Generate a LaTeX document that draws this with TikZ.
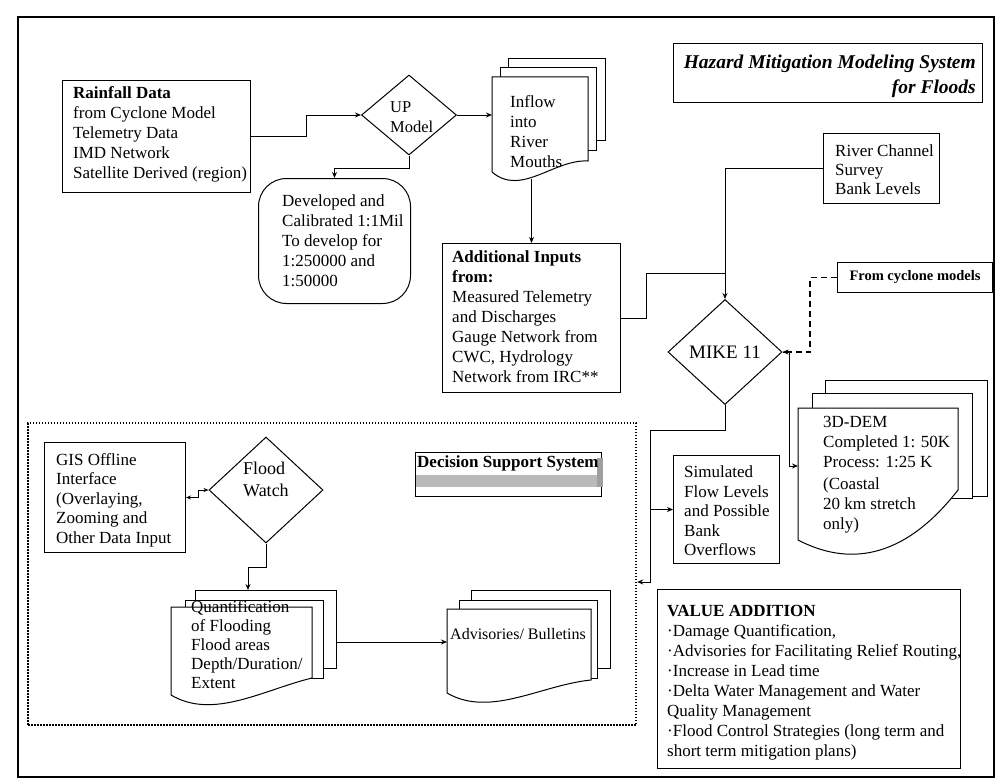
\documentclass[tikz,border=0pt]{standalone}
\usepackage{fontspec}
\setmainfont{Liberation Serif}
\usetikzlibrary{shapes.geometric,arrows.meta,calc}
\newcommand{\txt}{\fontsize{17}{20}\selectfont}
\begin{document}
\begin{tikzpicture}[x=1pt,y=-1pt,
  box/.style={draw, line width=1pt, anchor=north west, inner sep=0pt, fill=white},
  pg/.style={draw, line width=1pt, anchor=north west, inner sep=0pt, fill=white},
  anch/.style={draw=none, anchor=north west, inner sep=0pt},
  tx/.style={anchor=north west, inner sep=0pt, align=left, font=\txt},
  dia/.style={draw, diamond, inner sep=0pt, line width=1pt, fill=white},
  arr/.style={-{Stealth[length=6pt,width=5pt]}, line width=1pt},
  conn/.style={line width=1pt}]
\useasboundingbox (0,0) rectangle (1002,784);
\fill[white] (0,0) rectangle (1002,784);
% frame
\node[draw, line width=2pt, anchor=north west, inner sep=0pt, minimum width=976pt, minimum height=760pt] (frame) at (17,16) {};
% decision support dotted region
\node[draw, line width=2.2pt, dash pattern=on 1.6pt off 1.4pt, anchor=north west, inner sep=0pt, minimum width=608pt, minimum height=302pt] (dss) at (27,422) {};

% boxes
\node[box, minimum width=188pt, minimum height=112pt] (rain) at (62,80) {};
\node[dia, minimum width=95pt, minimum height=80pt] (up) at (409,115) {};
\node[box, rounded corners=28pt, minimum width=152pt, minimum height=125pt] (dev) at (258,178) {};
\node[box, minimum width=178pt, minimum height=149pt] (add) at (442,243) {};
\node[box, minimum width=309pt, minimum height=59pt] (title) at (673,43) {};
\node[box, minimum width=116pt, minimum height=70pt] (river) at (823,133) {};
\node[box, minimum width=155pt, minimum height=30pt, font=\fontsize{14.5}{16}\selectfont\bfseries] (cyc) at (837,262) {From cyclone models};
\node[dia, minimum width=114pt, minimum height=105pt, font=\fontsize{19}{22}\selectfont] (mike) at (725,352) {MIKE 11};
\node[box, minimum width=106pt, minimum height=108pt] (sim) at (673,455) {};
\node[box, minimum width=141pt, minimum height=110pt] (gis) at (44,442) {};
\node[dia, minimum width=114pt, minimum height=106pt] (flood) at (266,490) {};
\node[box, minimum width=186pt, minimum height=44pt] (dssbox) at (415,452) {};
\fill[gray!55] (416,475) rectangle (603,487);
\fill[gray!75] (597,458) rectangle (603,487);
\node[box, minimum width=303pt, minimum height=179pt] (val) at (657,589) {};

% inflow document stack
\node[pg, minimum width=97pt, minimum height=82pt] (inflowC) at (508,58) {};
\node[pg, minimum width=96pt, minimum height=83pt] (inflowB) at (500,67) {};
\filldraw[fill=white, line width=1pt] (492,77) -- (588,77) -- (588,161) .. controls (554,159) and (521,197) .. (492,172) -- cycle;
\node[anch, minimum width=96pt, minimum height=95pt] (inflow) at (492,77) {};

% 3D-DEM document stack
\node[pg, minimum width=162pt, minimum height=116pt] (demC) at (825,380) {};
\node[pg, minimum width=160pt, minimum height=105pt] (demB) at (812,393) {};
\filldraw[fill=white, line width=1pt] (798,408) -- (958,408) -- (958,490) .. controls (902,562) and (846,565) .. (798,540) -- cycle;
\node[anch, minimum width=160pt, minimum height=132pt] (dem) at (798,408) {};

% quantification stack
\node[pg, minimum width=141pt, minimum height=78pt] (quantB) at (195,590) {};
\node[pg, minimum width=138pt, minimum height=78pt] (quantM) at (185,600) {};
\filldraw[fill=white, line width=1pt] (171,607) -- (312,607) -- (312,678) .. controls (263,690) and (213,720) .. (171,695) -- cycle;
\node[anch, minimum width=141pt, minimum height=88pt] (quant) at (171,607) {};

% advisories stack
\node[pg, minimum width=139pt, minimum height=78pt] (advB) at (471,590) {};
\node[pg, minimum width=138pt, minimum height=78pt] (advM) at (459,600) {};
\filldraw[fill=white, line width=1pt] (447,609) -- (591,609) -- (591,680) .. controls (541,685) and (490,718) .. (447,693) -- cycle;
\node[anch, minimum width=144pt, minimum height=84pt] (adv) at (447,609) {};

% texts
\node[tx] (rainT) at (73,86) {\textbf{Rainfall Data}\\from Cyclone Model\\Telemetry Data\\IMD Network\\Satellite Derived (region)};
\node[tx, font=\fontsize{16.5}{20}\selectfont] (upT) at (390,101) {UP\\Model};
\node[tx] (inflowT) at (510,95) {Inflow\\into\\River\\Mouths};
\node[tx] (devT) at (282,195) {Developed and\\Calibrated 1:1Mil\\To develop for\\1:250000 and\\1:50000};
\node[tx] (addT) at (452,251) {\textbf{Additional Inputs}\\\textbf{from:}\\Measured Telemetry\\and Discharges\\Gauge Network from\\CWC, Hydrology\\Network from IRC**};
\node[tx, anchor=north east, align=right, font=\fontsize{19.5}{25}\selectfont\bfseries\itshape] (titleT) at (976,55) {Hazard Mitigation Modeling System\\for Floods};
\node[tx, font=\fontsize{17}{19}\selectfont] (riverT) at (835,145) {River Channel\\Survey\\Bank Levels};
\node[tx, font=\fontsize{17}{19.5}\selectfont] (simT) at (684,466) {Simulated\\Flow Levels\\and Possible\\Bank\\Overflows};
\node[tx] (demT) at (823,416) {3D-DEM\\Completed 1: 50K\\Process: 1:25 K\\[2pt](Coastal\\20 km stretch\\only)};
\node[tx, font=\fontsize{17}{19.5}\selectfont] (gisT) at (56,453) {GIS Offline\\Interface\\(Overlaying,\\Zooming and\\Other Data Input};
\node[tx, font=\fontsize{18}{22}\selectfont] (floodT) at (243,462) {Flood\\Watch};
\node[tx, font=\fontsize{17}{19}\selectfont] (quantT) at (191,600) {Quantification\\of Flooding\\Flood areas\\Depth/Duration/\\Extent};
\node[tx, font=\fontsize{16}{20}\selectfont] (advT) at (450,628) {Advisories/ Bulletins};
\node[tx, font=\fontsize{17}{20}\selectfont\bfseries] (dssT) at (417,456) {Decision Support System};
\node[tx] (valT) at (667,605) {\textbf{VALUE ADDITION}\\·Damage Quantification,\\·Advisories for Facilitating Relief Routing,\\·Increase in Lead time\\·Delta Water Management and Water\\Quality Management\\·Flood Control Strategies (long term and\\short term mitigation plans)};

% connectors
\draw[arr] (rain.east) -- ++(55,0) |- (up.west);
\draw[arr] (up.east) -- (inflow.west |- up.east);
\draw[arr] (up.south) -- ++(0,13) -| (dev.north);
\draw[arr] (add.north |- inflow.south) ++(0,7) -- (add.north);
\draw[arr] (river.west) -| (mike.north);
\draw[conn] (add.east) -- ++(25,0) |- ($(mike.north)+(0,-26)$);
\draw[arr, line width=1.3pt, dash pattern=on 6pt off 4pt] (cyc.west) -- ++(-27,0) |- (mike.east);
\draw[arr] (mike.east) -- ++(7,0) |- ($(dem.north west)+(0,58)$);
\coordinate (j1) at ($(mike.south)+(-75,25)$);
\draw[arr] (mike.south) -- ++(0,25) -- (j1) |- (sim.west);
\draw[arr] (j1) |- ($(dss.north east)+(0,160)$);
\draw[{Stealth[length=5pt,width=4pt]}-{Stealth[length=5pt,width=4pt]}, line width=1pt] (gis.east) -- ++(12,0) |- (flood.west);
\draw[arr] (flood.south) -- ++(0,24) -| ($(quantB.north west)+(53,0)$);
\draw[arr] ($(quantB.north east)+(0,52)$) -- ($(adv.north west)+(0,33)$);
\end{tikzpicture}
\end{document}
